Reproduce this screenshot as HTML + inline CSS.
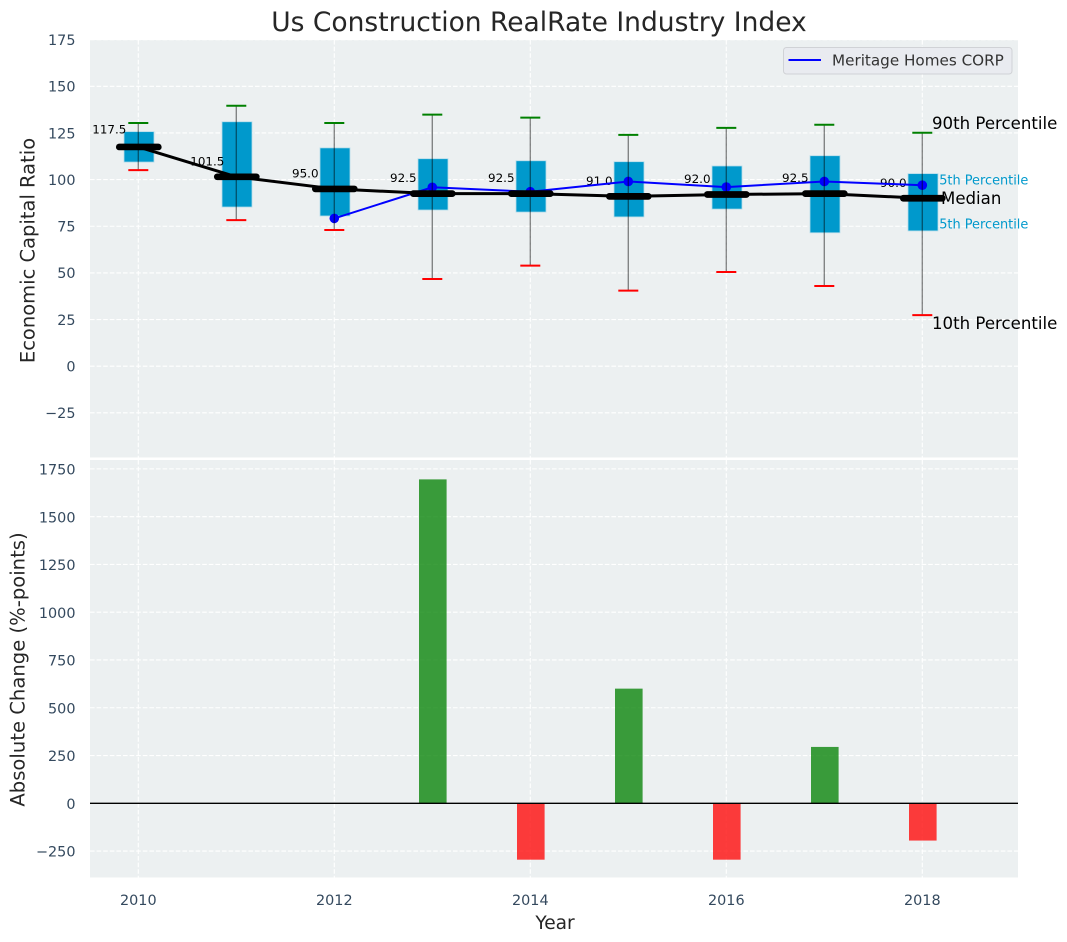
<!DOCTYPE html>
<html lang="en">
<head>
<meta charset="utf-8">
<title>Us Construction RealRate Industry Index</title>
<style>
html,body{margin:0;padding:0;background:#fff;}
svg{display:block;font-family:"DejaVu Sans","Liberation Sans",sans-serif;}
</style>
</head>
<body>
<svg id="chart" xmlns="http://www.w3.org/2000/svg" width="1067" height="942" viewBox="0 0 1067 942">
  <rect x="0" y="0" width="1067" height="942" fill="#ffffff"/>
  <text x="539" y="31" text-anchor="middle" font-size="26.5" fill="#262626">Us Construction RealRate Industry Index</text>
  <rect x="90" y="40" width="928" height="417.5" fill="#ecf0f1"/>
  <rect x="90" y="460" width="928" height="417.5" fill="#ecf0f1"/>
  <g id="grid"></g>
  <g id="ticks" font-size="14.4" fill="#34495e"></g>
  <text x="34.5" y="250.5" text-anchor="middle" font-size="19.5" fill="#262626" transform="rotate(-90 34.5 250.5)">Economic Capital Ratio</text>
  <text x="24.5" y="669.5" text-anchor="middle" font-size="19.6" fill="#262626" transform="rotate(-90 24.5 669.5)">Absolute Change (%-points)</text>
  <text x="555" y="929" text-anchor="middle" font-size="18.6" fill="#262626">Year</text>
  <g id="annotations">
    <text x="932" y="129" font-size="16.6" fill="#000000">90th Percentile</text>
    <text x="932" y="329" font-size="16.6" fill="#000000">10th Percentile</text>
    <text x="941" y="204" font-size="16.6" fill="#000000">Median</text>
    <text x="931" y="184.5" font-size="12.9" fill="#0099cc">75th Percentile</text>
    <text x="931" y="228.5" font-size="12.9" fill="#0099cc">25th Percentile</text>
  </g>
  <g id="boxes"></g>
  <g id="median-labels" font-size="11.9" fill="#000000" text-anchor="middle"></g>
  <g id="company"></g>
  <g id="medians"></g>
  <g id="whiskers"></g>
  <g id="bars"></g>
  <g id="legend">
    <rect x="783.5" y="47.5" width="228.5" height="26.5" rx="3" ry="3" fill="#e9ebf0" stroke="#d0d2d6" stroke-width="1"/>
    <line x1="788.5" y1="60" x2="821" y2="60" stroke="#0000ff" stroke-width="2"/>
    <text x="832" y="65.5" font-size="15.2" fill="#333333">Meritage Homes CORP</text>
  </g>
</svg>
<script>
const years = [2010, 2011, 2012, 2013, 2014, 2015, 2016, 2017, 2018];
const p90 = [130.3, 139.6, 130.3, 134.8, 133.2, 124, 127.7, 129.4, 125.1];
const p75 = [125.7, 131, 117, 111.2, 110.1, 109.6, 107.3, 112.8, 103.2];
const medianValues = [117.5, 101.5, 95, 92.5, 92.5, 91, 92, 92.5, 90];
const p25 = [109.4, 85.3, 80.5, 83.7, 82.6, 80, 84.2, 71.5, 72.5];
const p10 = [105.1, 78.3, 73, 46.7, 53.9, 40.5, 50.5, 43, 27.4];
const companyValues = [null, null, 79.2, 95.9, 93.5, 99, 96, 99, 97];
const changeValues = [0, 0, 0, 1695, -295, 600, -295, 295, -195];
const medianLabels = ['117.5', '101.5', '95.0', '92.5', '92.5', '91.0', '92.0', '92.5', '90.0'];
const xTicks = [2010, 2012, 2014, 2016, 2018];
const topTicks = [175, 150, 125, 100, 75, 50, 25, 0, -25];
const bottomTicks = [1750, 1500, 1250, 1000, 750, 500, 250, 0, -250];

const NS = 'http://www.w3.org/2000/svg';
function xScale(year) { return 138.3 + (year - 2010) * 98; }
function yTop(v) { return 366.2 - v * 1.866; }
function yBottom(v) { return 803.3 - v * 0.1911; }
function make(tag, attrs, parent) {
  const el = document.createElementNS(NS, tag);
  for (const k in attrs) el.setAttribute(k, attrs[k]);
  parent.appendChild(el);
  return el;
}
function tickText(v) { return String(v).replace('-', '\u2212'); }

const gridG = document.getElementById('grid');
const ticksG = document.getElementById('ticks');
const gridStyle = { stroke: '#ffffff', 'stroke-width': 1.1, 'stroke-dasharray': '4.6 2' };

xTicks.forEach(function (t) {
  [[40, 457.5], [460, 877.5]].forEach(function (range) {
    const el = make('line', Object.assign({ x1: xScale(t), x2: xScale(t), y1: range[0], y2: range[1] }, gridStyle), gridG);
    
    
  });
  const label = make('text', { x: xScale(t), y: 905, 'text-anchor': 'middle' }, ticksG);
  label.textContent = tickText(t);
  
  
});

topTicks.forEach(function (t) {
  const el = make('line', Object.assign({ x1: 90, x2: 1018, y1: yTop(t), y2: yTop(t) }, gridStyle), gridG);
  
  
  const label = make('text', { x: 75.5, y: yTop(t) + 5.3, 'text-anchor': 'end' }, ticksG);
  label.textContent = tickText(t);
  
  
});

bottomTicks.forEach(function (t) {
  const el = make('line', Object.assign({ x1: 90, x2: 1018, y1: yBottom(t), y2: yBottom(t) }, gridStyle), gridG);
  
  
  const label = make('text', { x: 75.5, y: yBottom(t) + 5.6, 'text-anchor': 'end' }, ticksG);
  label.textContent = tickText(t);
  
  
});

const labelsG = document.getElementById('median-labels');
const boxesG = document.getElementById('boxes');
const companyG = document.getElementById('company');
const mediansG = document.getElementById('medians');
const whiskersG = document.getElementById('whiskers');
const barsG = document.getElementById('bars');

years.forEach(function (yr, i) {
  const x = xScale(yr);

  const label = make('text', { x: x - 29, y: yTop(medianValues[i]) - (i === 0 ? 13.5 : 11.5) }, labelsG);
  label.textContent = medianLabels[i];
  
  

  const box = make('rect', {
    x: x + 0.7 - 15,
    y: yTop(p75[i]),
    width: 30,
    height: yTop(p25[i]) - yTop(p75[i]),
    fill: '#0099cc',
    stroke: '#b4dcea',
    'stroke-width': 0.8
  }, boxesG);
  
  
});

const companyPoints = [];
years.forEach(function (yr, i) {
  if (companyValues[i] !== null) companyPoints.push(xScale(yr) + ',' + yTop(companyValues[i]));
});
const companyLine = make('polyline', { points: companyPoints.join(' '), fill: 'none', stroke: '#0000ff', 'stroke-width': 2 }, companyG);



years.forEach(function (yr, i) {
  if (companyValues[i] === null) return;
  const dot = make('circle', { cx: xScale(yr), cy: yTop(companyValues[i]), r: 4.8, fill: '#0000ff' }, companyG);
  
  
});

const medianPoints = years.map(function (yr, i) { return xScale(yr) + ',' + yTop(medianValues[i]); }).join(' ');
const medianLine = make('polyline', { points: medianPoints, fill: 'none', stroke: '#000000', 'stroke-width': 3 }, mediansG);



years.forEach(function (yr, i) {
  const x = xScale(yr);
  const y = yTop(medianValues[i]);
  const cap = make('line', { x1: x - 19, x2: x + 20, y1: y, y2: y, stroke: '#000000', 'stroke-width': 6.7, 'stroke-linecap': 'round' }, mediansG);
  
  

  const whisker = make('line', { x1: x, x2: x, y1: yTop(p90[i]), y2: yTop(p10[i]), stroke: '#000000', 'stroke-opacity': 0.45, 'stroke-width': 1.4 }, whiskersG);
  
  

  const capHigh = make('line', { x1: x - 10, x2: x + 10, y1: yTop(p90[i]), y2: yTop(p90[i]), stroke: '#008000', 'stroke-width': 2 }, whiskersG);
  
  

  const capLow = make('line', { x1: x - 10, x2: x + 10, y1: yTop(p10[i]), y2: yTop(p10[i]), stroke: '#ff0000', 'stroke-width': 2 }, whiskersG);
  
  

  const v = changeValues[i];
  const bar = make('rect', {
    x: x + 0.5 - 13.8,
    y: Math.min(yBottom(v), yBottom(0)),
    width: 27.6,
    height: Math.abs(yBottom(v) - yBottom(0)),
    fill: v >= 0 ? '#008000' : '#ff0000',
    'fill-opacity': 0.76
  }, barsG);
  
  
});

const zeroLine = make('line', { x1: 90, x2: 1018, y1: yBottom(0), y2: yBottom(0), stroke: '#000000', 'stroke-width': 1.3 }, barsG);


</script>
</body>
</html>
